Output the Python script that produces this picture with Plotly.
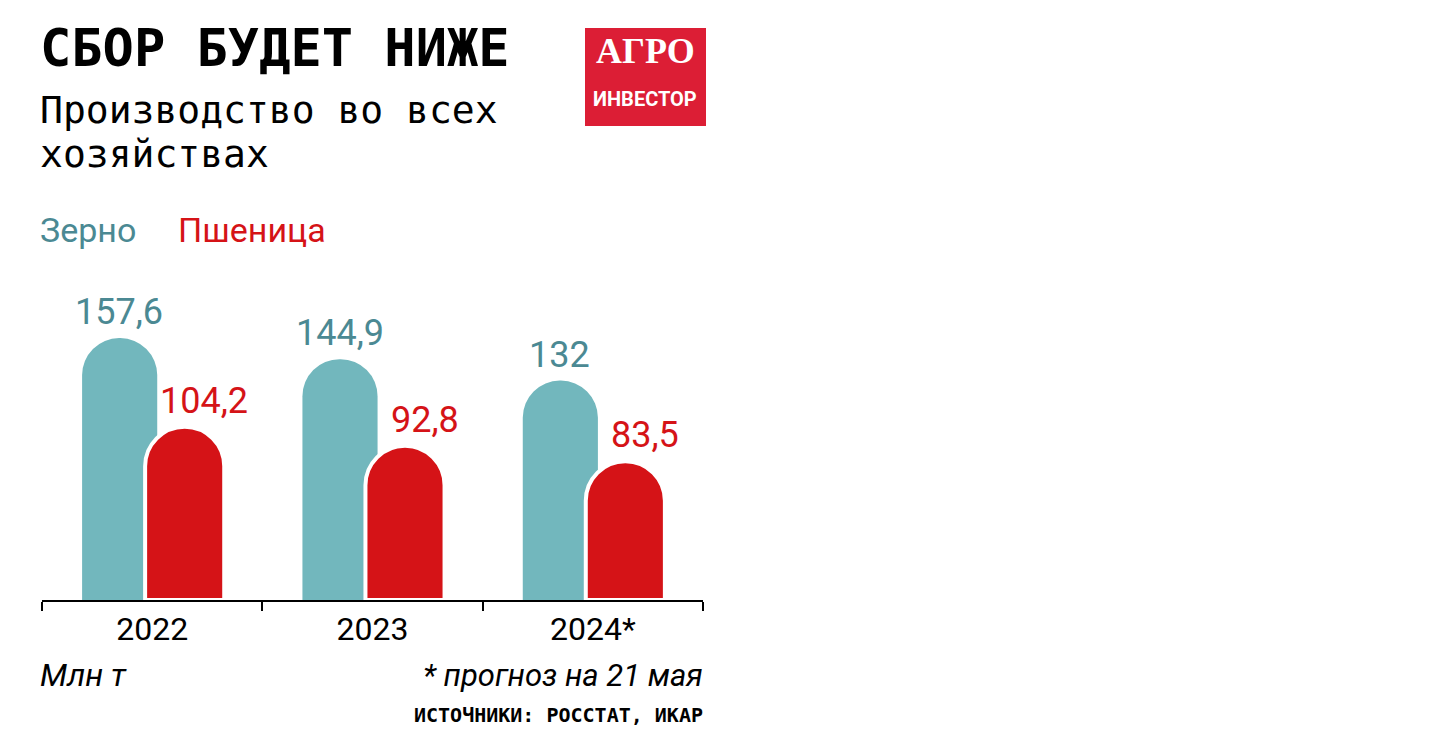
import plotly.graph_objects as go

# данные
years = ["2022", "2023", "2024*"]
grain = [157.6, 144.9, 132]
wheat = [104.2, 92.8, 83.5]

# цвета
TEAL = "#72b7bd"
TEAL_TXT = "#4b8993"
RED = "#d51317"
LOGO_RED = "#dc1e35"

OFF = 8                       # отступ body в браузере
W, H = 1447 - 2 * OFF, 747 - 2 * OFF
L, R, T, B = 34, 736, 260, 139   # поле графика в пикселях
PW, PH = W - L - R, H - T - B


def px2x(px):
    return (px - OFF - L) / PW


def py2y(py):
    return (H - B - (py - OFF)) / PH


def fmt(v):
    return f"{v:g}".replace(".", ",")


fig = go.Figure()

# Зерно
fig.add_trace(go.Bar(
    x=years, y=grain,
    offset=-0.318, width=0.341,
    marker=dict(color=TEAL, cornerradius="50%", line_width=0),
    showlegend=False, hoverinfo="skip"
))

# Пшеница (с белой обводкой поверх зерна)
fig.add_trace(go.Bar(
    x=years, y=wheat,
    offset=-0.032, width=0.359,
    marker=dict(color=RED, cornerradius="50%", line=dict(color="white", width=4)),
    showlegend=False, hoverinfo="skip"
))

SANS = "Roboto"
MONO = "DejaVu Sans Mono"

annotations = []

# подписи значений (x — номер категории)
for i, (g, w) in enumerate(zip(grain, wheat)):
    annotations.append(dict(x=i, y=g, xref="x", yref="y", text=fmt(g),
                            xanchor="center", yanchor="bottom", xshift=-33, yshift=3,
                            showarrow=False, font=dict(family=SANS, size=36, color=TEAL_TXT)))
    annotations.append(dict(x=i, y=w, xref="x", yref="y", text=fmt(w),
                            xanchor="center", yanchor="bottom", xshift=52, yshift=3,
                            showarrow=False, font=dict(family=SANS, size=36, color=RED)))


def txt(text, px, py, font, anchor="left"):
    annotations.append(dict(x=px2x(px), y=py2y(py), xref="paper", yref="paper", text=text,
                            xanchor=anchor, yanchor="middle", showarrow=False, font=font))


# заголовок
txt("<b>СБОР БУДЕТ НИЖЕ</b>", 38, 48, dict(family=MONO, size=52, color="black"))
txt("Производство во всех", 38, 110, dict(family=MONO, size=38, color="black"))
txt("хозяйствах", 38, 154, dict(family=MONO, size=38, color="black"))

# легенда
txt("Зерно", 38, 230, dict(family=SANS, size=34, color=TEAL_TXT))
txt("Пшеница", 176, 230, dict(family=SANS, size=34, color=RED))

# подвал
txt("<i>Млн т</i>", 38, 675, dict(family=SANS, size=32, color="black"))
txt("<i>* прогноз на 21 мая</i>", 705, 675, dict(family=SANS, size=31, color="black"), "right")
txt("<b>ИСТОЧНИКИ: РОССТАТ, ИКАР</b>", 705, 715, dict(family=MONO, size=20, color="black"), "right")

# логотип
txt("<b>АГРО</b>", 645, 51, dict(family="Liberation Serif", size=36, color="white"), "center")
txt("<b>ИНВЕСТОР</b>", 645, 99, dict(family=SANS, size=20, color="white"), "center")

shapes = [dict(type="rect", xref="paper", yref="paper",
               x0=px2x(585), x1=px2x(706), y0=py2y(126), y1=py2y(28),
               fillcolor=LOGO_RED, line_width=0, layer="below")]

fig.update_layout(
    width=W, height=H,
    margin=dict(l=L, r=R, t=T, b=B, pad=0),
    paper_bgcolor="white", plot_bgcolor="white",
    barmode="overlay",
    annotations=annotations,
    shapes=shapes,
    xaxis=dict(type="category", categoryorder="array", categoryarray=years,
               range=[-0.5, 2.5], showline=True, linecolor="black", linewidth=2,
               ticks="outside", tickson="boundaries", ticklen=9, tickwidth=2, tickcolor="black",
               tickfont=dict(family=SANS, size=32, color="black"),
               showgrid=False, zeroline=False, fixedrange=True),
    yaxis=dict(range=[0, PH / 1.662], visible=False, showgrid=False, zeroline=False, fixedrange=True),
)

fig.write_html("out.html", config={"displayModeBar": False})
